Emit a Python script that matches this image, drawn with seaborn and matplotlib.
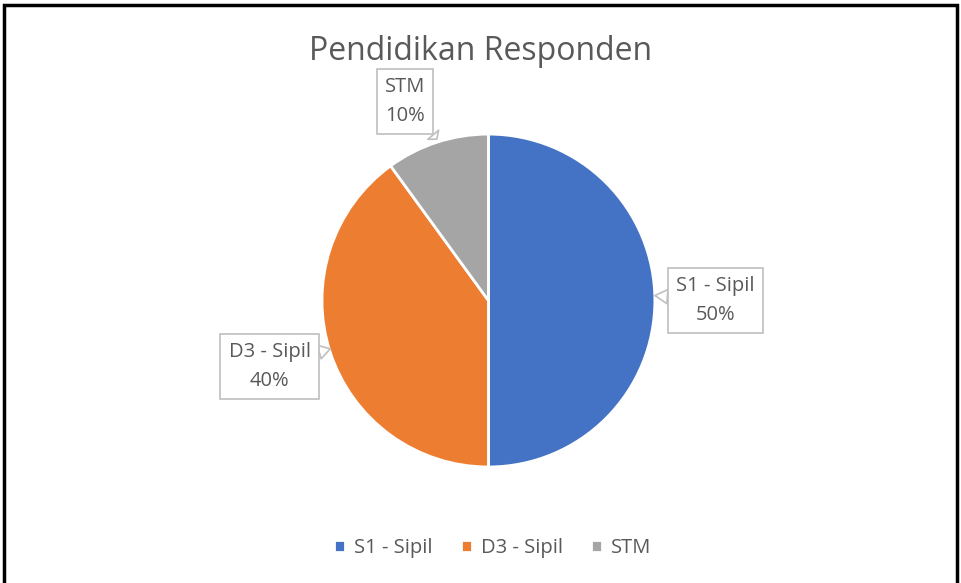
import numpy as np
import seaborn as sns
from matplotlib import pyplot as plt
from matplotlib.patches import Rectangle

categories = ['S1 - Sipil', 'D3 - Sipil', 'STM']
shares = [50, 40, 10]
colors = ['#4472C4', '#ED7D31', '#A5A5A5']
title = 'Pendidikan Responden'

sns.set_theme(style='white')
plt.rcParams['font.family'] = ['Open Sans', 'DejaVu Sans']
text_color = '#595959'

fig = plt.figure(figsize=(9.61, 5.83), dpi=100)
ax = fig.add_axes([0.335, 0.199, 0.3465, 0.571])
wedges, _ = ax.pie(shares, colors=colors, startangle=90, counterclock=False,
                   wedgeprops=dict(edgecolor='white', linewidth=2))
ax.set_xlim(-1, 1)
ax.set_ylim(-1, 1)
ax.set_aspect('equal')
ax.axis('off')

# callout labels: (box centre, pointer tip) in pie units
callouts = [((1.363, 0.0), (1.0, 0.03)),
            ((-1.315, -0.396), (-0.95, -0.29)),
            ((-0.5, 1.195), (-0.31, 0.97))]
for cat, val, (box, tip) in zip(categories, shares, callouts):
    ax.annotate(f'{cat}\n{val}%', xy=tip, xytext=box, ha='center', va='center',
                fontsize=14.5, color=text_color, linespacing=1.6,
                annotation_clip=False,
                bbox=dict(boxstyle='square,pad=0.4', fc='white', ec='#BFBFBF', lw=1.2),
                arrowprops=dict(arrowstyle='wedge,tail_width=0.7,shrink_factor=0.5',
                                fc='white', ec='#BFBFBF', lw=1.2,
                                shrinkA=0, shrinkB=0))

fig.text(0.5, 1 - 51 / 583, title, ha='center', va='center', fontsize=23, color=text_color)

fig.legend(wedges, categories, loc='center', bbox_to_anchor=(0.5125, 1 - 548 / 583),
           ncol=3, frameon=False, fontsize=14.5, labelcolor=text_color,
           handlelength=0.55, handleheight=0.55, handletextpad=0.45, columnspacing=1.4)

fig.patches.append(Rectangle((4 / 961, -0.02), 953 / 961, 1.02 - 5 / 583,
                             transform=fig.transFigure, fill=False, ec='black', lw=2.5))

fig.savefig('out.png', dpi=100)
